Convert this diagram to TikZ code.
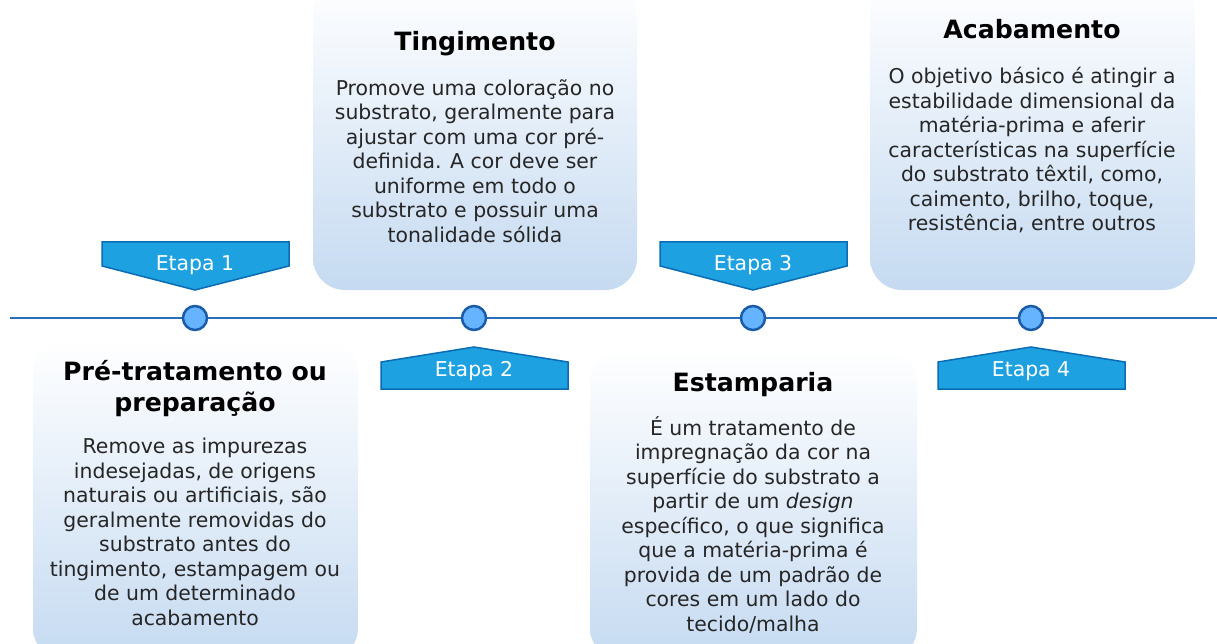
\documentclass[tikz,border=0pt]{standalone}
\usepackage{fontspec}
\setmainfont{DejaVu Sans}
\definecolor{linha}{HTML}{2A6EBB}
\definecolor{bolafill}{HTML}{66B3FF}
\definecolor{bolaborda}{HTML}{1A5CA8}
\definecolor{etapafill}{HTML}{1DA1E0}
\definecolor{etapaborda}{HTML}{0B6CB3}
\definecolor{caixafundo}{HTML}{C5DAF1}
\definecolor{texto}{HTML}{262626}
\begin{document}
\begin{tikzpicture}[x=1pt,y=-1pt,font=\fontsize{20.4}{24.5}\selectfont,
	caixa/.style={rounded corners=32pt,top color=white,bottom color=caixafundo},
	titulo/.style={font=\fontsize{25.2}{31}\selectfont\bfseries,align=center,inner sep=0pt},
	corpo/.style={text=texto,align=center,inner sep=0pt,anchor=north},
	etapa/.style={fill=etapafill,draw=etapaborda,line width=1.5pt},
	rotulo/.style={text=white,inner sep=0pt,anchor=base},
	bola/.style={circle,fill=bolafill,draw=bolaborda,line width=2.5pt,minimum size=24pt,inner sep=0pt}]
	\useasboundingbox (0,0) rectangle (1217,644);
	\clip (0,0) rectangle (1217,644);
	% caixas
	\path[caixa] (33,340) rectangle (358,660);
	\path[caixa] (313,-20) rectangle (637,290);
	\path[caixa] (590,350) rectangle (917,660);
	\path[caixa] (870,-20) rectangle (1195,290);
	% linha do tempo
	\coordinate (ini) at (10,318);
	\coordinate (fim) at (1217,318);
	\draw[linha,line width=2pt] (ini)--(fim);
	% etapas
	\foreach \x/\n in {195/1,753/3}{
		\draw[etapa] (\x-93,242)--(\x+94,242)--(\x+94,266)--(\x,290)--(\x-93,266)--cycle;
		\node[rotulo] (e\n) at (\x,270) {Etapa \n};
	}
	\foreach \x/\n in {474/2,1031/4}{
		\draw[etapa] (\x-93,389)--(\x+94,389)--(\x+94,362)--(\x,347)--(\x-93,362)--cycle;
		\node[rotulo] (e\n) at (\x,376) {Etapa \n};
	}
	\foreach \x/\n in {195/1,474/2,753/3,1031/4}
		\node[bola] (p\n) at (\x,318) {};
	% textos
	\node[titulo,anchor=north] (t1) at (195,360) {Pré-tratamento ou\\preparação};
	\node[corpo] (c1) at (195,438) {Remove as impurezas\\indesejadas, de origens\\naturais ou artificiais, são\\geralmente removidas do\\substrato antes do\\tingimento, estampagem ou\\de um determinado\\acabamento};
	\node[titulo,anchor=base] (t2) at (475,51) {Tingimento};
	\node[corpo] (c2) at (475,79) {Promove uma coloração no\\substrato, geralmente para\\ajustar com uma cor pré-\\definida. A cor deve ser\\uniforme em todo o\\substrato e possuir uma\\tonalidade sólida};
	\node[titulo,anchor=base] (t3) at (753,391) {Estamparia};
	\node[corpo] (c3) at (753,416) {É um tratamento de\\impregnação da cor na\\superfície do substrato a\\partir de um \textit{design}\\específico, o que significa\\que a matéria-prima é\\provida de um padrão de\\cores em um lado do\\tecido/malha};
	\node[titulo,anchor=base] (t4) at (1032,39) {Acabamento};
	\node[corpo] (c4) at (1032,67) {O objetivo básico é atingir a\\estabilidade dimensional da\\matéria-prima e aferir\\características na superfície\\do substrato têxtil, como,\\caimento, brilho, toque,\\resistência, entre outros};
\end{tikzpicture}
\end{document}
